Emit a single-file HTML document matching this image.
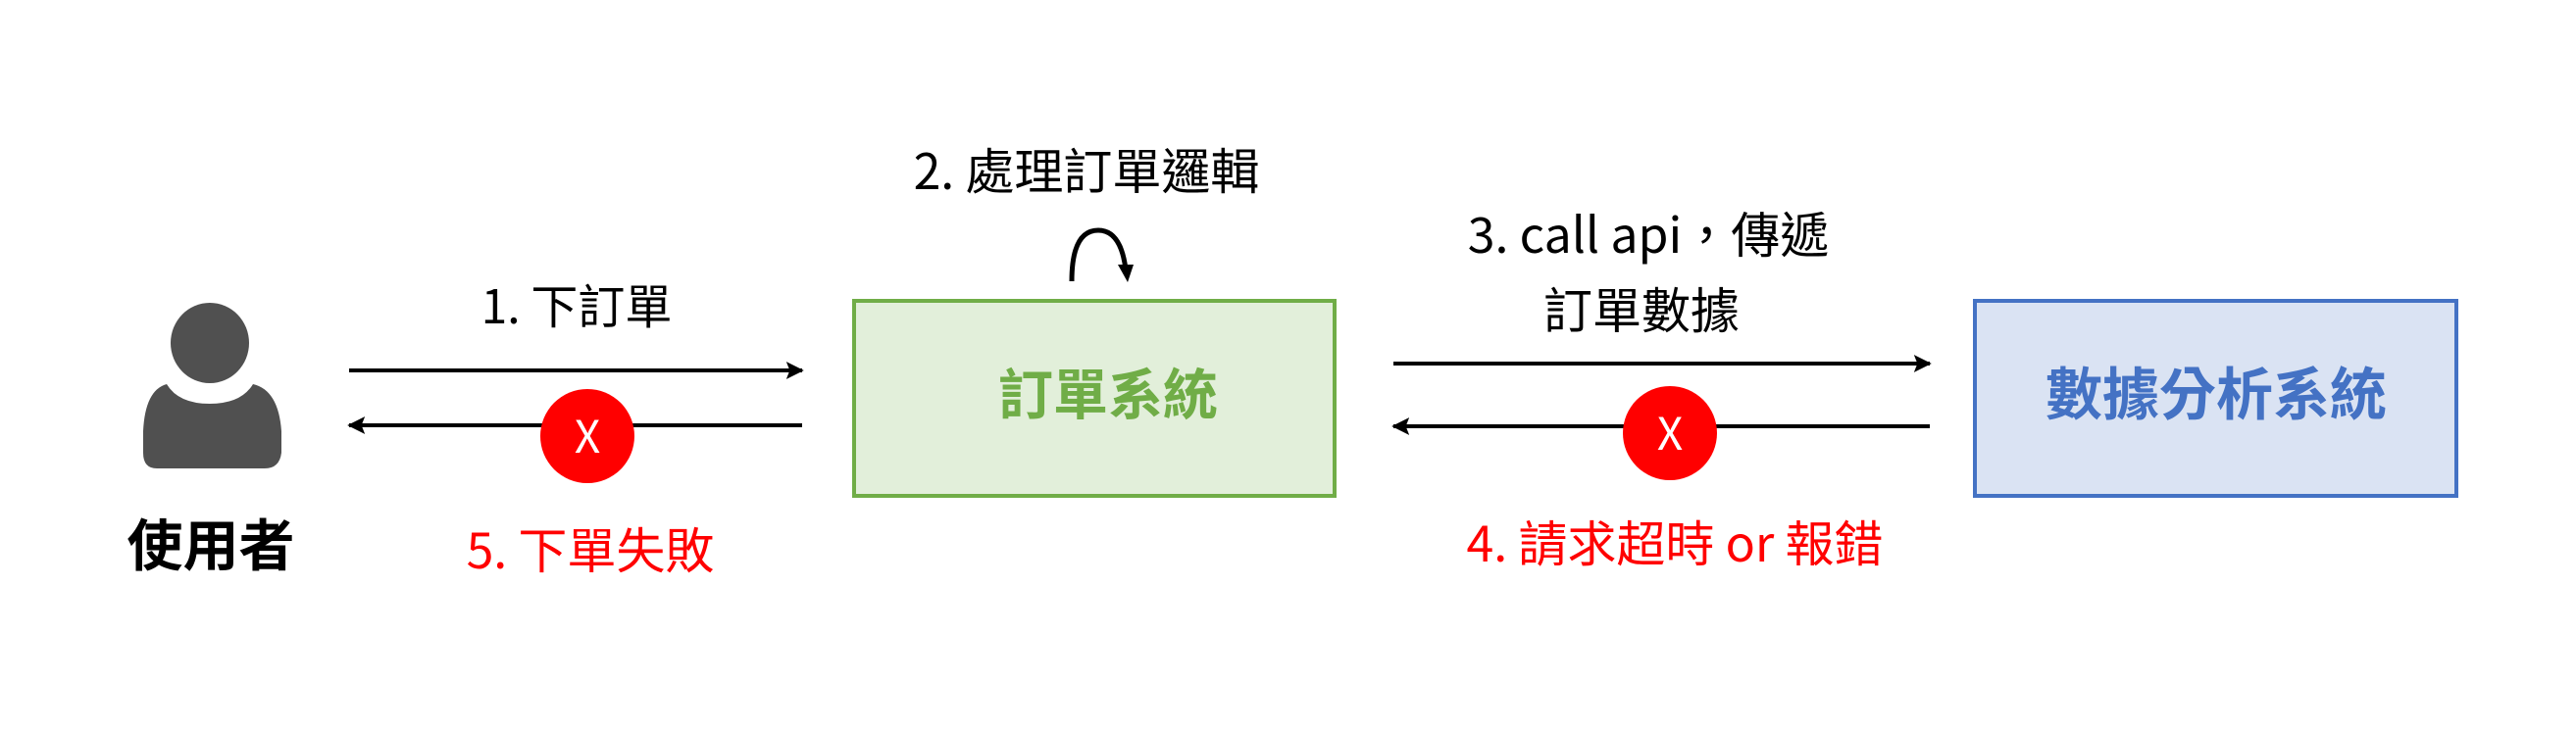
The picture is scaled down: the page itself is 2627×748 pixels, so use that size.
<!DOCTYPE html>
<html><head><meta charset="utf-8"><style>
html,body{margin:0;padding:0;background:#fff;}
svg{display:block;}
text{font-family:"Noto Sans CJK TC","Liberation Sans",sans-serif;}
</style></head><body>
<svg width="2627" height="748" viewBox="0 0 2627 748" xmlns="http://www.w3.org/2000/svg">
<defs>
<marker id="ah" viewBox="0 0 10 10" refX="9" refY="5" markerWidth="4.5" markerHeight="4.5" orient="auto" markerUnits="strokeWidth">
<path d="M0,0 L10,5 L0,10 L2,5 Z" fill="#000"/>
</marker>
</defs>
<!-- person -->
<ellipse cx="214" cy="350" rx="40" ry="41" fill="#505050"/>
<path d="M170,392 Q182,412 214,412 Q246,412 258,392 Q284,398 287,440 L287,462 Q285,478 270,478 L160,478 Q146,478 146,462 L146,440 Q148,398 170,392 Z" fill="#505050"/>
<text x="215" y="577" font-size="57" font-weight="bold" text-anchor="middle" fill="#000">使用者</text>

<!-- boxes -->
<rect x="871" y="307" width="490" height="199" fill="#e2efda" stroke="#70ad47" stroke-width="4"/>
<text x="1130" y="423" font-size="56" font-weight="bold" text-anchor="middle" fill="#70ad47">訂單系統</text>
<rect x="2014" y="307" width="491" height="199" fill="#dae3f3" stroke="#4472c4" stroke-width="4"/>
<text x="2260" y="423" font-size="58" font-weight="bold" text-anchor="middle" fill="#4472c4">數據分析系統</text>

<!-- arrows left -->
<line x1="356" y1="378" x2="818" y2="378" stroke="#000" stroke-width="4" marker-end="url(#ah)"/>
<line x1="818" y1="434" x2="356" y2="434" stroke="#000" stroke-width="4" marker-end="url(#ah)"/>
<circle cx="599" cy="445" r="48" fill="#ff0000"/>
<text x="599" y="462" font-size="46" text-anchor="middle" fill="#fff">X</text>
<text x="588" y="330" font-size="48" text-anchor="middle" fill="#000">1. 下訂單</text>
<text x="602" y="580" font-size="50" text-anchor="middle" fill="#ff0000">5. 下單失敗</text>

<!-- self loop -->
<path d="M1093,287 Q1093,235 1120,235 Q1143,235 1148,275" fill="none" stroke="#000" stroke-width="5"/>
<path d="M1140,270 L1156,270 L1150,288 Z" fill="#000"/>
<text x="1108" y="193" font-size="50" text-anchor="middle" fill="#000">2. 處理訂單邏輯</text>

<!-- arrows right -->
<line x1="1421" y1="371" x2="1968" y2="371" stroke="#000" stroke-width="4" marker-end="url(#ah)"/>
<line x1="1968" y1="435" x2="1421" y2="435" stroke="#000" stroke-width="4" marker-end="url(#ah)"/>
<circle cx="1703" cy="442" r="48" fill="#ff0000"/>
<text x="1703" y="459" font-size="46" text-anchor="middle" fill="#fff">X</text>
<text x="1681" y="258" font-size="50" text-anchor="middle" fill="#000">3. call api，傳遞</text>
<text x="1674" y="335" font-size="50" text-anchor="middle" fill="#000">訂單數據</text>
<text x="1708" y="573" font-size="50" text-anchor="middle" fill="#ff0000">4. 請求超時 or 報錯</text>
</svg>
</body></html>
